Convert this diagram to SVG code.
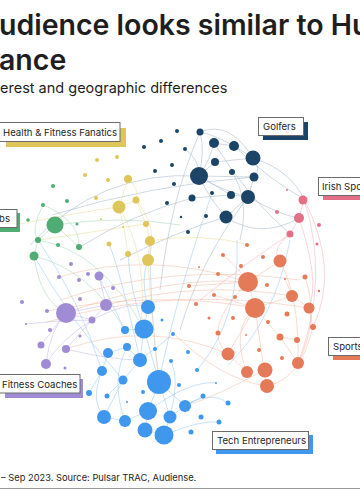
<svg xmlns="http://www.w3.org/2000/svg" width="360" height="500" viewBox="0 0 360 500">
<style>
text{font-family:Inter,"Liberation Sans",sans-serif;fill:#1e1e1e}
.t{font-size:28.5px;font-weight:600}
.s{font-size:14.5px}
.lb{font-size:9.6px}
.f{font-size:9.3px}
.box{fill:#fff;stroke:#6b6b6b;stroke-width:1}
.e path{fill:none;stroke-width:0.8}
.en path{stroke:#a6bacb;stroke-opacity:.7}
.eb path{stroke:#8cc2f2;stroke-opacity:.6}
.eo path{stroke:#f1ae94;stroke-opacity:.55}
.ey path{stroke:#ecd78e;stroke-opacity:.6}
.eg path{stroke:#acd8bd;stroke-opacity:.7}
.ep path{stroke:#c6bbe8;stroke-opacity:.7}
.ek path{stroke:#f0a9b6;stroke-opacity:.6}
.navy circle{fill:#1b4467}
.yel circle{fill:#dfc65b}
.grn circle{fill:#4fac72}
.pnk circle{fill:#e46f86}
.org circle{fill:#e57a58}
.pur circle{fill:#a08bd5}
.blu circle{fill:#3f98ee}
</style>
<rect width="360" height="500" fill="#fff"/>
<g id="title">
<text class="t" x="-1" y="35">udience looks similar to Hu</text>
<text class="t" x="-1" y="70">ance</text>
<text class="s" x="0" y="93">erest and geographic differences</text>
</g>
<g id="connectors" class="e">
<g class="en">
<path d="M200,132 Q205,150 199,176"/><path d="M200,132 Q215,135 234,146"/><path d="M200,132 Q230,120 253,158"/>
<path d="M214,143 L234,146"/><path d="M214,143 Q210,160 199,176"/><path d="M234,146 L253,158"/>
<path d="M215,162 L253,158"/><path d="M215,162 L199,176"/><path d="M199,176 L254,177"/>
<path d="M199,176 Q220,190 248,197"/><path d="M199,176 L231,195"/><path d="M254,177 L248,197"/>
<path d="M253,158 Q262,170 254,177"/><path d="M231,195 L248,197"/><path d="M192,198 L231,195"/>
<path d="M226,217 L248,197"/><path d="M199,176 Q210,200 226,217"/><path d="M226,217 Q260,240 299,218"/>
<path d="M253,158 Q290,170 304,199"/><path d="M248,197 Q280,215 299,218"/><path d="M234,146 Q270,180 304,199"/>
<path d="M214,143 Q250,200 290,234"/><path d="M199,176 Q100,170 30,245"/><path d="M254,177 Q150,185 52,215"/>
<path d="M200,132 Q170,200 160,290"/><path d="M248,197 Q200,260 180,330"/><path d="M226,217 Q180,230 120,260"/>
<path d="M192,198 Q130,215 80,247"/><path d="M232,172 Q250,200 240,240"/><path d="M185,149 Q200,160 199,176"/>
</g>
<g class="eb">
<path d="M159,382 Q150,310 150,241"/><path d="M148,307 Q140,280 148,260"/><path d="M144,329 L148,307"/>
<path d="M144,329 Q130,290 128,254"/><path d="M159,382 L144,329"/><path d="M140,360 L144,329"/>
<path d="M125,330 L144,329"/><path d="M127,347 L140,360"/><path d="M108,353 L127,347"/>
<path d="M102,371 L108,353"/><path d="M123,380 L140,360"/><path d="M148,411 L159,382"/>
<path d="M104,417 L123,380"/><path d="M125,421 L148,411"/><path d="M145,430 L148,411"/>
<path d="M164,435 L170,417"/><path d="M170,417 L159,382"/><path d="M145,430 L164,435"/>
<path d="M104,417 L125,421"/><path d="M185,406 L159,382"/><path d="M185,406 L170,417"/>
<path d="M185,406 Q210,390 228,403"/><path d="M203,396 L185,406"/><path d="M159,382 Q175,300 212,193"/>
<path d="M140,360 Q120,270 109,244"/><path d="M102,371 Q80,300 38,240"/><path d="M123,380 Q70,320 34,256"/>
<path d="M89,393 L102,371"/><path d="M107,396 L123,380"/><path d="M125,330 Q100,280 99,276"/>
<path d="M237,240 Q240,320 197,370"/><path d="M290,240 Q275,320 228,365"/><path d="M104,417 Q90,400 102,371"/>
<path d="M148,411 Q190,380 216,383"/><path d="M164,435 Q200,420 219,422"/><path d="M140,360 Q160,345 173,334"/>
<path d="M125,421 Q110,380 127,347"/><path d="M170,417 Q180,380 171,361"/>
</g>
<g class="eo">
<path d="M248,282 L255,308"/><path d="M280,261 L248,282"/><path d="M255,308 L292,296"/>
<path d="M292,296 L309,308"/><path d="M255,308 L280,337"/><path d="M228,354 L255,308"/>
<path d="M247,372 L228,354"/><path d="M264,370 L255,308"/><path d="M267,386 L264,370"/>
<path d="M298,363 L280,337"/><path d="M280,337 L297,340"/><path d="M309,308 L313,327"/>
<path d="M248,282 Q170,275 66,313"/><path d="M255,308 Q160,290 47,311"/><path d="M248,282 Q150,250 59,277"/>
<path d="M228,354 Q150,320 66,349"/><path d="M292,296 Q200,280 106,305"/><path d="M280,261 Q300,300 298,363"/>
<path d="M305,277 Q320,320 298,363"/><path d="M248,282 Q200,330 228,354"/><path d="M267,386 Q300,380 313,327"/>
<path d="M255,308 Q230,330 247,372"/><path d="M60,300 Q170,262 300,280"/><path d="M47,322 Q170,285 309,308"/>
<path d="M264,370 Q220,395 185,406"/><path d="M267,386 Q220,380 170,330"/><path d="M223,255 Q240,270 248,282"/>
<path d="M189,286 L248,282"/><path d="M214,295 L255,308"/><path d="M285,279 L292,296"/>
</g>
<g class="ek">
<path d="M304,199 Q330,280 298,363"/><path d="M299,218 Q320,280 309,308"/><path d="M290,234 Q270,250 280,261"/>
<path d="M304,199 L299,218"/><path d="M299,218 L290,234"/><path d="M304,199 Q340,270 313,327"/>
<path d="M290,234 Q250,260 200,300"/>
</g>
<g class="ey">
<path d="M119,207 L128,179"/><path d="M119,207 L136,200"/><path d="M136,200 L146,224"/>
<path d="M146,224 L150,241"/><path d="M119,207 Q125,230 128,254"/><path d="M150,241 L148,260"/>
<path d="M136,200 Q160,230 148,260"/><path d="M128,179 Q140,190 136,200"/><path d="M119,207 Q80,212 20,224"/>
<path d="M146,224 Q90,232 40,240"/><path d="M150,241 Q200,232 250,245"/><path d="M148,260 Q150,300 159,382"/>
<path d="M119,207 Q150,260 140,330"/>
</g>
<g class="eg">
<path d="M43,205 Q30,230 38,240"/><path d="M38,240 L34,256"/><path d="M55,225 L38,240"/>
<path d="M55,225 L79,247"/><path d="M34,256 Q40,300 66,313"/><path d="M43,205 Q80,220 79,247"/>
<path d="M38,240 Q100,250 144,329"/><path d="M34,256 Q90,270 125,330"/><path d="M55,225 Q120,215 180,225"/>
</g>
<g class="ep">
<path d="M66,313 L92,320"/><path d="M66,313 L106,305"/><path d="M66,313 L41,345"/>
<path d="M92,320 L106,305"/><path d="M66,349 L92,320"/><path d="M46,364 Q60,340 92,320"/>
<path d="M66,313 Q50,330 46,364"/><path d="M106,305 L99,276"/><path d="M92,320 Q130,300 148,307"/>
<path d="M66,349 Q110,360 140,360"/><path d="M26,324 Q60,320 92,320"/>
</g>
</g>
<g id="golfers-cluster" class="navy">
<circle cx="200" cy="132" r="3.5"/><circle cx="214" cy="143" r="5"/><circle cx="234" cy="146" r="5"/>
<circle cx="253" cy="158" r="7.5"/><circle cx="215" cy="162" r="4"/><circle cx="199" cy="176" r="9"/>
<circle cx="232" cy="172" r="3"/><circle cx="254" cy="177" r="4.5"/><circle cx="185" cy="149" r="2"/>
<circle cx="212" cy="193" r="2"/><circle cx="192" cy="198" r="3.5"/><circle cx="231" cy="195" r="4"/>
<circle cx="248" cy="197" r="7"/><circle cx="226" cy="217" r="6.5"/><circle cx="206" cy="216" r="2"/>
<circle cx="188" cy="232" r="2"/><circle cx="181" cy="217" r="1.2"/><circle cx="177" cy="131" r="2"/>
<circle cx="161" cy="141" r="2"/><circle cx="144" cy="147" r="2"/><circle cx="172" cy="165" r="2"/>
<circle cx="155" cy="171" r="2"/><circle cx="174" cy="184" r="2"/><circle cx="167" cy="203" r="2"/>
</g>
<g id="health-fitness-cluster" class="yel">
<circle cx="97" cy="160" r="2"/><circle cx="117" cy="157" r="2"/><circle cx="85" cy="175" r="2"/>
<circle cx="108" cy="180" r="2"/><circle cx="128" cy="179" r="4"/><circle cx="96" cy="198" r="2"/>
<circle cx="119" cy="207" r="6.5"/><circle cx="136" cy="200" r="3.5"/><circle cx="146" cy="224" r="3"/>
<circle cx="101" cy="219" r="1"/><circle cx="123" cy="227" r="1"/><circle cx="150" cy="241" r="5"/>
<circle cx="109" cy="244" r="2.5"/><circle cx="128" cy="254" r="3"/><circle cx="148" cy="260" r="6"/>
</g>
<g id="clubs-cluster" class="grn">
<circle cx="53" cy="186" r="2"/><circle cx="43" cy="205" r="2"/><circle cx="67" cy="201" r="2"/>
<circle cx="28" cy="220" r="1.8"/><circle cx="55" cy="225" r="8.5"/><circle cx="77" cy="224" r="1.5"/>
<circle cx="38" cy="240" r="3"/><circle cx="58" cy="245" r="2"/><circle cx="79" cy="247" r="3"/>
<circle cx="34" cy="256" r="4.5"/>
</g>
<g id="irish-sports-cluster" class="pnk">
<circle cx="303" cy="200" r="4.5"/><circle cx="287" cy="190" r="1"/><circle cx="277" cy="212" r="2"/>
<circle cx="299" cy="218" r="5"/><circle cx="319" cy="225" r="2"/><circle cx="290" cy="234" r="3.5"/>
<circle cx="317" cy="244" r="1.5"/>
</g>
<g id="sports-cluster" class="org">
<circle cx="247" cy="245" r="2"/><circle cx="223" cy="255" r="2"/><circle cx="263" cy="257" r="2"/>
<circle cx="280" cy="261" r="6.5"/><circle cx="241" cy="266" r="2"/><circle cx="199" cy="267" r="1"/>
<circle cx="218" cy="274" r="2"/><circle cx="248" cy="282" r="10"/><circle cx="285" cy="279" r="1"/>
<circle cx="305" cy="277" r="2.5"/><circle cx="189" cy="286" r="2"/><circle cx="267" cy="285" r="2"/>
<circle cx="292" cy="296" r="6"/><circle cx="319" cy="291" r="1.2"/><circle cx="214" cy="295" r="2"/>
<circle cx="235" cy="297" r="2"/><circle cx="196" cy="304" r="2"/><circle cx="255" cy="308" r="10"/>
<circle cx="309" cy="308" r="5.5"/><circle cx="287" cy="314" r="2.5"/><circle cx="209" cy="318" r="1.5"/>
<circle cx="233" cy="318" r="2"/><circle cx="268" cy="322" r="2"/><circle cx="313" cy="327" r="3"/>
<circle cx="246" cy="335" r="1"/><circle cx="280" cy="337" r="3.5"/><circle cx="297" cy="340" r="3"/>
<circle cx="218" cy="333" r="2.5"/><circle cx="259" cy="350" r="2"/><circle cx="228" cy="354" r="6.5"/>
<circle cx="282" cy="358" r="2"/><circle cx="298" cy="363" r="6"/><circle cx="247" cy="372" r="6"/>
<circle cx="265" cy="370" r="7.5"/><circle cx="267" cy="386" r="7"/>
</g>
<g id="fitness-coaches-cluster" class="pur">
<circle cx="71" cy="264" r="2"/><circle cx="59" cy="277" r="2"/><circle cx="88" cy="274" r="2"/>
<circle cx="99" cy="276" r="4.5"/><circle cx="79" cy="280" r="2"/><circle cx="113" cy="288" r="2"/>
<circle cx="22" cy="302" r="2"/><circle cx="80" cy="299" r="2"/><circle cx="106" cy="305" r="6"/>
<circle cx="66" cy="313" r="10"/><circle cx="47" cy="311" r="2"/><circle cx="92" cy="320" r="3.5"/>
<circle cx="26" cy="324" r="1"/><circle cx="50" cy="330" r="2"/><circle cx="80" cy="336" r="1.5"/>
<circle cx="41" cy="345" r="3.5"/><circle cx="66" cy="349" r="4"/><circle cx="46" cy="364" r="5"/>
<circle cx="65" cy="368" r="1.5"/>
</g>
<g id="tech-cluster" class="blu">
<circle cx="148" cy="307" r="7"/><circle cx="144" cy="329" r="9.5"/><circle cx="125" cy="330" r="4"/>
<circle cx="162" cy="320" r="1.5"/><circle cx="173" cy="334" r="2"/><circle cx="127" cy="347" r="4"/>
<circle cx="155" cy="349" r="2"/><circle cx="108" cy="353" r="5"/><circle cx="140" cy="360" r="7"/>
<circle cx="171" cy="361" r="2"/><circle cx="102" cy="371" r="5"/><circle cx="123" cy="380" r="4.5"/>
<circle cx="159" cy="382" r="12"/><circle cx="89" cy="393" r="3"/><circle cx="107" cy="396" r="2.5"/>
<circle cx="143" cy="392" r="2"/><circle cx="127" cy="402" r="1"/><circle cx="148" cy="411" r="9"/>
<circle cx="104" cy="417" r="7"/><circle cx="125" cy="421" r="6"/><circle cx="170" cy="417" r="6.5"/>
<circle cx="145" cy="430" r="7.5"/><circle cx="164" cy="435" r="9.5"/><circle cx="179" cy="385" r="2"/>
<circle cx="185" cy="406" r="6"/><circle cx="203" cy="396" r="2.5"/><circle cx="216" cy="383" r="1"/>
<circle cx="228" cy="403" r="2.5"/><circle cx="201" cy="417" r="2.5"/><circle cx="219" cy="422" r="2.5"/>
<circle cx="191" cy="432" r="2.5"/><circle cx="188" cy="352" r="2"/><circle cx="197" cy="370" r="2"/>
</g>
<g id="label-health">
<rect x="6" y="128" width="120" height="19" fill="#dfc65b"/>
<rect class="box" x="-1" y="122.5" width="121" height="19"/>
<text class="lb" x="3" y="135.5">Health &amp; Fitness Fanatics</text>
</g>
<g id="label-golfers">
<rect x="263" y="122" width="45" height="18" fill="#1b4467"/>
<rect class="box" x="258.5" y="117.5" width="45" height="18"/>
<text class="lb" x="263" y="130">Golfers</text>
</g>
<g id="label-irish">
<rect x="323" y="182" width="60" height="18" fill="#e46f86"/>
<rect class="box" x="318.5" y="177.5" width="60" height="18"/>
<text class="lb" x="322" y="190">Irish Sports</text>
</g>
<g id="label-clubs">
<rect x="0" y="213" width="20" height="19" fill="#4fac72"/>
<rect class="box" x="-20" y="209.5" width="37" height="18"/>
<text class="lb" x="-16" y="222">Clubs</text>
</g>
<g id="label-sports">
<rect x="333" y="342" width="40" height="18" fill="#e57a58"/>
<rect class="box" x="328.5" y="337.5" width="50" height="18"/>
<text class="lb" x="333" y="350">Sports</text>
</g>
<g id="label-coaches">
<rect x="5" y="379" width="78" height="19" fill="#a08bd5"/>
<rect class="box" x="-1" y="374.5" width="81" height="18.5"/>
<text class="lb" x="2" y="387.5">Fitness Coaches</text>
</g>
<g id="label-tech">
<rect x="216" y="435" width="97" height="19" fill="#3f98ee"/>
<rect class="box" x="212.5" y="431.5" width="96" height="18"/>
<text class="lb" x="217" y="444">Tech Entrepreneurs</text>
</g>
<g id="footer">
<text class="f" x="1" y="481">– Sep 2023. Source: Pulsar TRAC, Audiense.</text>
<line x1="0" y1="488.5" x2="360" y2="488.5" stroke="#9a9a9a" stroke-width="1"/>
</g>
</svg>
